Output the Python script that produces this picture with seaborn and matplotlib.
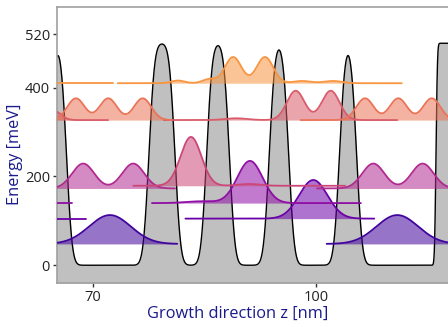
import math
import numpy as np
import pandas as pd
import matplotlib
matplotlib.use("Agg")
import matplotlib.pyplot as plt
import seaborn as sns

# barriers of the layer stack (centre, width in nm), smoothed edges
barrier_z = [65.25, 79.24, 86.78, 94.98, 104.27]
barrier_w = [2.3, 3.5, 3.05, 2.6, 2.3]
barrier_top = 500
wall_z = 116.1

# bound states: energy [meV] and probability density lobes
state_energy = [48, 105, 140, 173, 179, 327, 327, 410]
state_shade = [0.1, 0.2, 0.3, 0.4, 0.5, 0.57, 0.65, 0.75]
state_segments = [
    [(65.1, 81.3), (101.4, 120)],
    [(65.1, 69.0), (82.4, 107.8)],
    [(65.1, 67.1), (77.9, 106.0)],
    [(65.1, 81.0), (100.1, 120)],
    [(75.4, 103.9)],
    [(65.1, 72.0), (79.5, 110.9)],
    [(65.1, 80.5), (97.9, 120)],
    [(65.1, 72.65), (73.3, 111.5)],
]
lobe_z = [
    [72.25, 110.9],
    [99.6],
    [84.5, 91.08],
    [68.65, 75.38, 107.67, 114.3],
    [83.15, 91.0],
    [64.8, 89.2, 97.23, 101.94],
    [67.67, 72.02, 76.65, 106.55, 111.03, 115.53],
    [81.4, 85.6, 88.82, 93.1, 98.1, 102.25],
]
lobe_amp = [
    [65, 65],
    [87],
    [4, 95],
    [56, 56, 56, 56],
    [110, 4],
    [20, 4, 66, 66],
    [49, 49, 49, 49, 49, 49],
    [6, 9, 59, 59, 5, 5],
]
lobe_sig = [
    [2.8, 2.8],
    [1.9],
    [2.0, 1.7],
    [1.48, 1.48, 1.48, 1.48],
    [1.4, 1.5],
    [0.9, 1.5, 1.19, 1.19],
    [1.16, 1.16, 1.16, 1.16, 1.16, 1.16],
    [0.9, 0.9, 1.11, 1.11, 1.2, 1.2],
]

sns.set_theme(style="white")
plt.rcParams["font.family"] = ["Open Sans", "DejaVu Sans"]

fig = plt.figure(figsize=(4.48, 3.27), dpi=100)
ax = fig.add_axes([57 / 448, 44 / 327, 401 / 448, 275.7 / 327])

erf = np.vectorize(math.erf)
r2 = math.sqrt(2)

# conduction band profile
z = np.linspace(64, 121, 2500)
V = np.zeros_like(z)
smooth = 0.6
for c, w in zip(barrier_z, barrier_w):
    V += barrier_top / 2 * (erf((z - c + w / 2) / (smooth * r2)) - erf((z - c - w / 2) / (smooth * r2)))
V += barrier_top / 2 * (1 + erf((z - wall_z) / (0.15 * r2)))
pot = pd.DataFrame({"z": z, "V": V})

ax.fill_between(pot["z"], pot["V"], -40, color="#c0c0c0", lw=0, zorder=1)
sns.lineplot(data=pot, x="z", y="V", color="black", lw=1.0, ax=ax,
             estimator=None, sort=False, zorder=2)

# wavefunctions |psi|^2 offset by their energy
for i, E in enumerate(state_energy):
    col = plt.cm.plasma(state_shade[i])
    for z0, z1 in state_segments[i]:
        zz = np.linspace(z0, z1, 600)
        dens = np.zeros_like(zz)
        for c, a, s in zip(lobe_z[i], lobe_amp[i], lobe_sig[i]):
            dens += a * np.exp(-(zz - c) ** 2 / (2 * s * s))
        ax.fill_between(zz, E, E + dens, color=col, alpha=0.55, lw=0, zorder=3)
        sns.lineplot(x=zz, y=E + dens, color=col, lw=1.3, ax=ax,
                     estimator=None, sort=False, zorder=4)

ax.set_xlim(65.13, 119.06)
ax.set_ylim(-40, 581)
ax.set_xticks([70, 100])
ax.set_yticks([0, 200, 400, 520])
ax.tick_params(bottom=True, left=True, length=3, width=1, color="#333333",
               labelcolor="#222222", labelsize=10.5, pad=2)
for sp in ax.spines.values():
    sp.set_color("#a0a0a0")
    sp.set_linewidth(1.2)

ax.set_xlabel("Growth direction z [nm]", color="#1a1a8c", fontsize=11.8)
ax.set_ylabel("Energy [meV]", color="#1a1a8c", fontsize=11.8)
ax.xaxis.set_label_coords(0.451, -0.083)
ax.yaxis.set_label_coords(-0.085, 0.468)

fig.savefig("out.png", dpi=100)
